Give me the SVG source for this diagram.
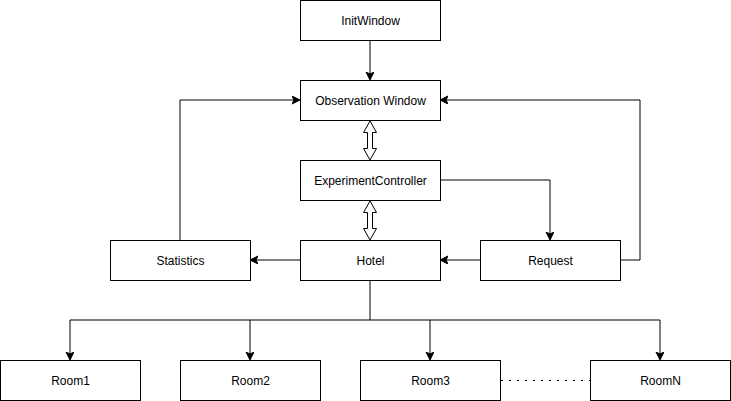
<svg xmlns="http://www.w3.org/2000/svg" width="731" height="401" viewBox="0 0 731 401">
<style>
.box{fill:#fff;stroke:#000;stroke-width:1}
.lbl{font-family:"Liberation Sans",Arial,sans-serif;font-size:12px;fill:#000;text-anchor:middle;dominant-baseline:central}
.c{fill:none;stroke:#000;stroke-width:1}
.dbl{fill:#fff;stroke:#000;stroke-width:1}
</style>
<defs>
<marker id="ah" markerWidth="10" markerHeight="10" refX="7" refY="4" orient="auto" markerUnits="userSpaceOnUse">
<path d="M0,0 L8,4 L0,8 L2,4 Z" fill="#000" stroke="#000" stroke-width="1"/>
</marker>
</defs>
<rect width="731" height="401" fill="#fff"/>
<g id="connectors">
<path class="c" d="M370,40 V79" marker-end="url(#ah)"/>
<path class="c" d="M180,240 V100 H299" marker-end="url(#ah)"/>
<path class="c" d="M620,260 H640 V100 H441" marker-end="url(#ah)"/>
<path class="c" d="M440,180 H550 V239" marker-end="url(#ah)"/>
<path class="c" d="M300,260 H251" marker-end="url(#ah)"/>
<path class="c" d="M480,260 H441" marker-end="url(#ah)"/>
<path class="c" d="M370,280 V320"/>
<path class="c" d="M70,320 H660"/>
<path class="c" d="M70,320 V359" marker-end="url(#ah)"/>
<path class="c" d="M250,320 V359" marker-end="url(#ah)"/>
<path class="c" d="M430,320 V359" marker-end="url(#ah)"/>
<path class="c" d="M660,320 V359" marker-end="url(#ah)"/>
<path class="c" d="M501,380.5 H590" stroke-dasharray="2 6" stroke-width="2"/>
<path class="dbl" d="M370,121 L376.5,132.5 L372.5,132.5 L372.5,148.5 L376.5,148.5 L370,160 L363.5,148.5 L367.5,148.5 L367.5,132.5 L363.5,132.5 Z"/>
<path class="dbl" d="M370,201 L376.5,212.5 L372.5,212.5 L372.5,228.5 L376.5,228.5 L370,240 L363.5,228.5 L367.5,228.5 L367.5,212.5 L363.5,212.5 Z"/>
</g>
<g id="initwindow"><rect class="box" x="300.5" y="0.5" width="140" height="40"/><text class="lbl" x="370.5" y="20.5">InitWindow</text></g>
<g id="observation-window"><rect class="box" x="300.5" y="80.5" width="140" height="40"/><text class="lbl" x="370.5" y="100.5">Observation Window</text></g>
<g id="experiment-controller"><rect class="box" x="300.5" y="160.5" width="140" height="40"/><text class="lbl" x="370.5" y="180.5">ExperimentController</text></g>
<g id="hotel"><rect class="box" x="300.5" y="240.5" width="140" height="40"/><text class="lbl" x="370.5" y="260.5">Hotel</text></g>
<g id="statistics"><rect class="box" x="110.5" y="240.5" width="140" height="40"/><text class="lbl" x="180.5" y="260.5">Statistics</text></g>
<g id="request"><rect class="box" x="480.5" y="240.5" width="140" height="40"/><text class="lbl" x="550.5" y="260.5">Request</text></g>
<g id="room1"><rect class="box" x="0.5" y="360.5" width="140" height="40"/><text class="lbl" x="70.5" y="380.5">Room1</text></g>
<g id="room2"><rect class="box" x="180.5" y="360.5" width="140" height="40"/><text class="lbl" x="250.5" y="380.5">Room2</text></g>
<g id="room3"><rect class="box" x="360.5" y="360.5" width="140" height="40"/><text class="lbl" x="430.5" y="380.5">Room3</text></g>
<g id="roomN"><rect class="box" x="590.5" y="360.5" width="140" height="40"/><text class="lbl" x="660.5" y="380.5">RoomN</text></g>
</svg>
